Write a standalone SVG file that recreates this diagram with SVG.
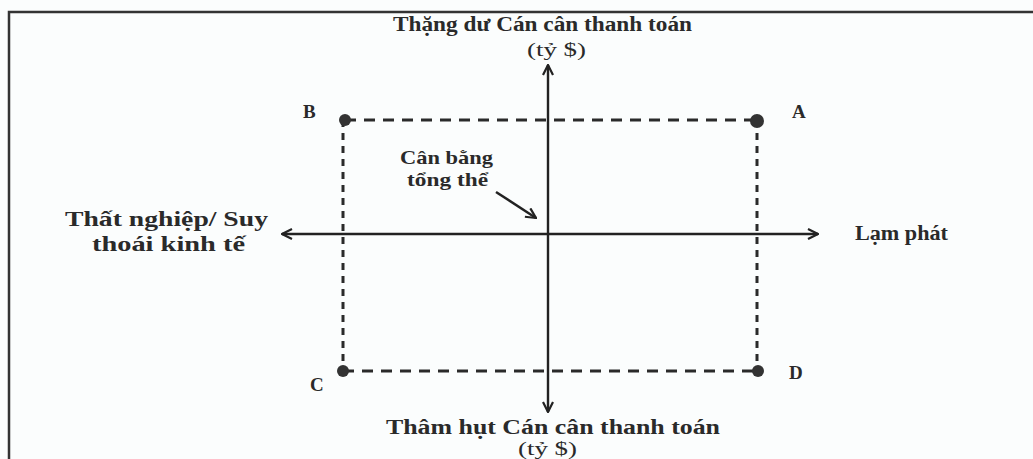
<svg xmlns="http://www.w3.org/2000/svg" width="1033" height="459" viewBox="0 0 1033 459">
<defs>
<style>
.t{font-family:"Liberation Serif","Times New Roman",serif;font-weight:bold;fill:#2a2a2a;}
.n{font-family:"Liberation Serif","Times New Roman",serif;fill:#2a2a2a;}
.ax{stroke:#222;stroke-width:2.4;fill:none;}
.dh{stroke:#2a2a2a;stroke-width:3;fill:none;stroke-dasharray:11 8;}
.dv{stroke:#2a2a2a;stroke-width:3;fill:none;stroke-dasharray:7 6;}
.dot{fill:#333;}
</style>
<marker id="ah" viewBox="0 0 12 12" refX="11" refY="6" markerWidth="12" markerHeight="12" markerUnits="userSpaceOnUse" orient="auto">
<path d="M1,1 L11,6 L1,11" fill="none" stroke="#222" stroke-width="2.2"/>
</marker>
</defs>
<rect width="1033" height="459" fill="#fbfdfd"/>
<g id="frame">
<path d="M9,459 L9,12 L1033,12" fill="none" stroke="#333" stroke-width="2.5"/>
</g>
<g id="connectors">
<line class="ax" x1="548" y1="234" x2="548" y2="65" marker-end="url(#ah)"/>
<line class="ax" x1="548" y1="234" x2="548" y2="412" marker-end="url(#ah)"/>
<line class="ax" x1="548" y1="234" x2="818" y2="234" marker-end="url(#ah)"/>
<line class="ax" x1="548" y1="234" x2="282" y2="234" marker-end="url(#ah)"/>
<line class="dh" x1="345" y1="120" x2="757" y2="120"/>
<line class="dh" x1="343" y1="371" x2="757" y2="371"/>
<line class="dv" x1="343" y1="120" x2="343" y2="371"/>
<line class="dv" x1="757" y1="120" x2="757" y2="371"/>
<line stroke="#222" stroke-width="2.5" x1="496" y1="192" x2="536" y2="218" marker-end="url(#ah)"/>
</g>
<g id="node-A"><circle class="dot" cx="757" cy="121" r="7"/><text class="t" x="792" y="118" font-size="19">A</text></g>
<g id="node-B"><circle class="dot" cx="345" cy="120" r="6"/><text class="t" x="303" y="118" font-size="19">B</text></g>
<g id="node-C"><circle class="dot" cx="343" cy="371" r="6"/><text class="t" x="310" y="391" font-size="19">C</text></g>
<g id="node-D"><circle class="dot" cx="758" cy="371" r="6"/><text class="t" x="789" y="379" font-size="19">D</text></g>
<g id="label-top"><text class="t" x="393" y="31" font-size="20" textLength="299" lengthAdjust="spacingAndGlyphs">Thặng dư Cán cân thanh toán</text><text class="n" x="527" y="56" font-size="18" textLength="59" lengthAdjust="spacingAndGlyphs">(tỷ $)</text></g>
<g id="label-bottom"><text class="t" x="386" y="434" font-size="20" textLength="334" lengthAdjust="spacingAndGlyphs">Thâm hụt Cán cân thanh toán</text><text class="n" x="518" y="455" font-size="18" textLength="59" lengthAdjust="spacingAndGlyphs">(tỷ $)</text></g>
<g id="label-left"><text class="t" x="65" y="226" font-size="21" textLength="203" lengthAdjust="spacingAndGlyphs">Thất nghiệp/ Suy</text><text class="t" x="92" y="251" font-size="21" textLength="153" lengthAdjust="spacingAndGlyphs">thoái kinh tế</text></g>
<g id="label-right"><text class="t" x="855" y="240" font-size="21" textLength="93" lengthAdjust="spacingAndGlyphs">Lạm phát</text></g>
<g id="label-center"><text class="t" x="400" y="164" font-size="19" textLength="93" lengthAdjust="spacingAndGlyphs">Cân bằng</text><text class="t" x="407" y="186" font-size="19" textLength="81" lengthAdjust="spacingAndGlyphs">tổng thể</text></g>
</svg>
